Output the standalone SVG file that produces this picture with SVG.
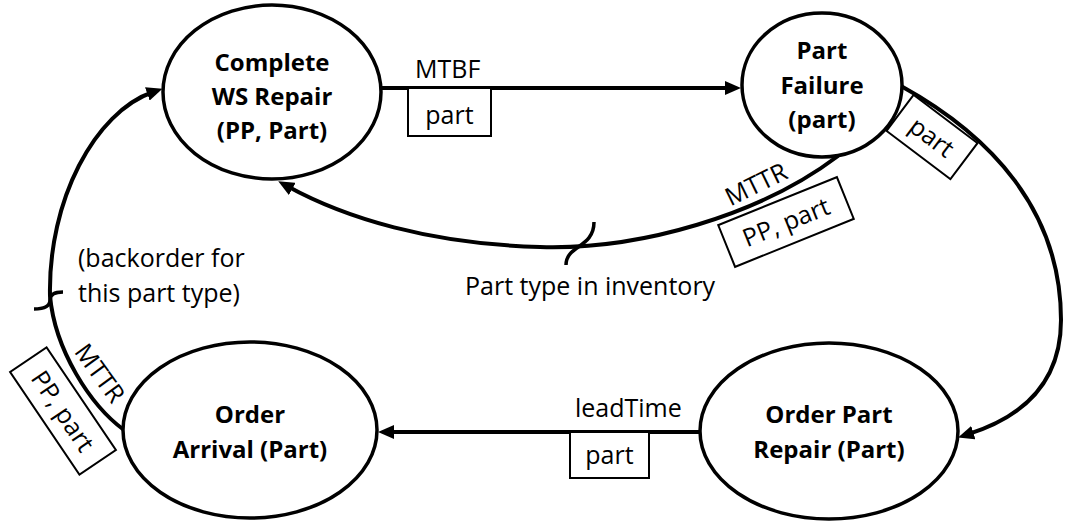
<svg xmlns="http://www.w3.org/2000/svg" width="1065" height="523" viewBox="0 0 1065 523">
<style>
  .node ellipse { fill: #ffffff; stroke: #000000; stroke-width: 3.5; }
  .nlabel { font-family: "Open Sans", "Liberation Sans", sans-serif; font-size: 24px; font-weight: bold; fill: #000000; text-anchor: middle; }
  .elabel { font-family: "Open Sans", "Liberation Sans", sans-serif; font-size: 25px; fill: #000000; }
  .mid { text-anchor: middle; }
  .edge { fill: none; stroke: #000000; stroke-width: 4; }
  .tick { fill: none; stroke: #000000; stroke-width: 3.5; }
  .box { fill: #ffffff; stroke: #000000; stroke-width: 2; }
</style>
<defs>
  <marker id="arrow" markerUnits="userSpaceOnUse" markerWidth="18" markerHeight="14" refX="6" refY="7" orient="auto">
    <path d="M0,0 L16,7 L0,14 Z" fill="#000000"/>
  </marker>
</defs>
<rect width="1065" height="523" fill="#ffffff"/>

<g id="connectors">
  <g id="e-mtbf">
    <line class="edge" x1="381" y1="88" x2="731" y2="88" marker-end="url(#arrow)"/>
    <rect class="box" x="408" y="88" width="83" height="48"/>
    <text class="elabel" x="415" y="78">MTBF</text>
    <text class="elabel mid" x="449.5" y="124">part</text>
  </g>
  <g id="e-mttr-top">
    <path class="edge" d="M 838 156 C 760 215, 640 250, 540 247 C 430 244, 345 218, 287 186" marker-end="url(#arrow)"/>
    <path class="tick" d="M 566 265 C 566 245, 594 248, 594 222"/>
    <g transform="translate(756,184) rotate(-26)">
      <text class="elabel mid" x="0" y="9">MTTR</text>
    </g>
    <g transform="translate(786,222) rotate(-22)">
      <rect class="box" x="-64" y="-22.5" width="128" height="45"/>
      <text class="elabel mid" x="0" y="9">PP, part</text>
    </g>
    <text class="elabel" x="465" y="295">Part type in inventory</text>
  </g>
  <g id="e-right">
    <path class="edge" d="M 901 86 C 990 135, 1061 210, 1061 320 C 1061 385, 1020 418, 967.6 434.4" marker-end="url(#arrow)"/>
    <g transform="translate(932,137) rotate(37)">
      <rect class="box" x="-40" y="-22.5" width="80" height="45"/>
      <text class="elabel mid" x="0" y="9">part</text>
    </g>
  </g>
  <g id="e-leadtime">
    <line class="edge" x1="700" y1="432" x2="388" y2="432" marker-end="url(#arrow)"/>
    <rect class="box" x="570" y="432" width="79" height="46"/>
    <text class="elabel" x="575" y="417">leadTime</text>
    <text class="elabel mid" x="609.5" y="464">part</text>
  </g>
  <g id="e-left">
    <path class="edge" d="M 124 430 C 90 405, 55 350, 50 296 C 48 200, 95 112, 153 92" marker-end="url(#arrow)"/>
    <path class="tick" d="M 34 309 C 48 309, 50 304, 50 300 C 50 294, 55 292, 63 292"/>
    <text class="elabel" x="78" y="267">(backorder for</text>
    <text class="elabel" x="78" y="302">this part type)</text>
    <g transform="translate(100,373) rotate(54)">
      <text class="elabel mid" x="0" y="9">MTTR</text>
    </g>
    <g transform="translate(63,411) rotate(56)">
      <rect class="box" x="-62" y="-22" width="124" height="44"/>
      <text class="elabel mid" x="0" y="9">PP, part</text>
    </g>
  </g>
</g>

<g id="node-complete-ws-repair" class="node">
  <ellipse cx="272" cy="92" rx="109" ry="87"/>
  <text class="nlabel" x="272" y="71">Complete</text>
  <text class="nlabel" x="272" y="105">WS Repair</text>
  <text class="nlabel" x="272" y="139">(PP, Part)</text>
</g>
<g id="node-part-failure" class="node">
  <ellipse cx="822" cy="85" rx="80" ry="72"/>
  <text class="nlabel" x="822" y="59">Part</text>
  <text class="nlabel" x="822" y="94">Failure</text>
  <text class="nlabel" x="822" y="128">(part)</text>
</g>
<g id="node-order-part-repair" class="node">
  <ellipse cx="829" cy="431" rx="129" ry="88"/>
  <text class="nlabel" x="829" y="423">Order Part</text>
  <text class="nlabel" x="829" y="458">Repair (Part)</text>
</g>
<g id="node-order-arrival" class="node">
  <ellipse cx="250" cy="430" rx="127" ry="88"/>
  <text class="nlabel" x="250" y="423">Order</text>
  <text class="nlabel" x="250" y="458">Arrival (Part)</text>
</g>
</svg>
